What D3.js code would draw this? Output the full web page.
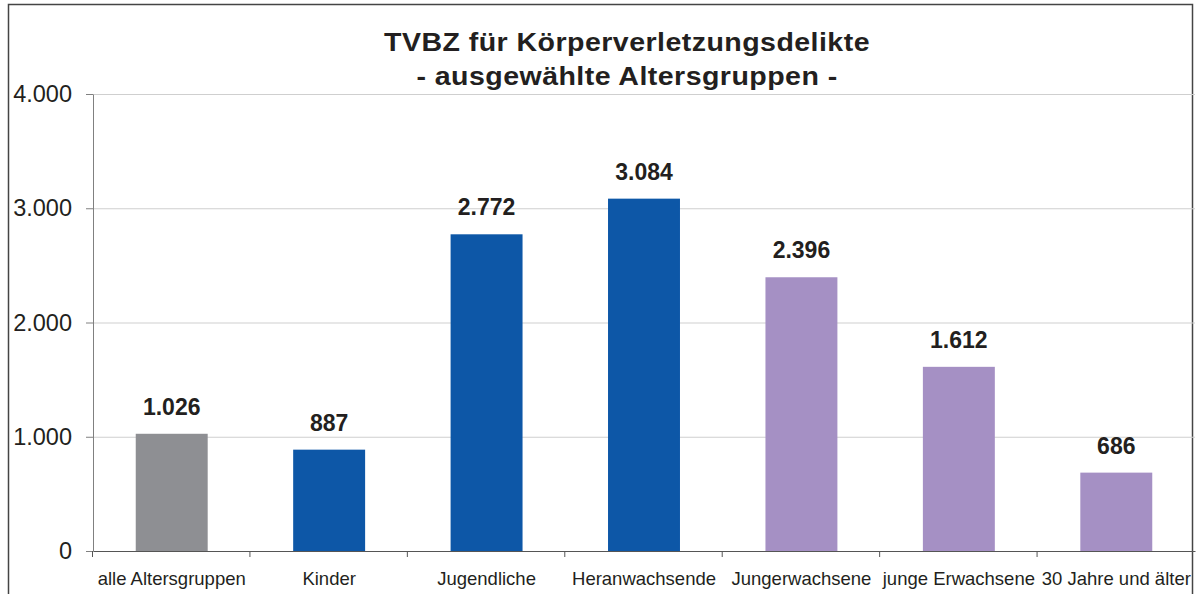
<!DOCTYPE html>
<meta charset="utf-8">
<style>
body { margin: 0; background: #fff; }
text { font-family: "Liberation Sans", Arial, sans-serif; fill: #231f20; }
.grid line { stroke: #cfcfcf; }
.axis--y path, .axis--y line { stroke: #808080; }
.axis--x path, .axis--x line { stroke: #555; }
</style>
<body>
<script src="https://d3js.org/d3.v7.min.js"></script>
<script>

var categories = ["alle Altersgruppen", "Kinder", "Jugendliche", "Heranwachsende",
                  "Jungerwachsene", "junge Erwachsene", "30 Jahre und älter"];
var values = [1026, 887, 2772, 3084, 2396, 1612, 686];
var groups = ["alle", "jung", "jung", "jung", "erw", "erw", "erw"];
var yTicks = [0, 1000, 2000, 3000, 4000];

var colors = {alle: "#8e8f93", jung: "#0d57a7", erw: "#a590c4"};

var de = d3.formatLocale({decimal: ",", thousands: ".", grouping: [3], currency: ["", " €"]});
var fmt = de.format(",.0f");

var W = 1196, H = 594;
var margin = {top: 94, right: 1, bottom: 43, left: 93},
    width = 1195 - margin.left,
    height = 551 - margin.top;

var svg = d3.select("body").append("svg")
    .attr("width", W)
    .attr("height", H);

// outer frame
svg.append("rect")
    .attr("x", 8.5).attr("y", 4.5)
    .attr("width", 1184).attr("height", 620)
    .attr("fill", "none")
    .attr("stroke", "#444")
    .attr("stroke-width", 1.5);

var g = svg.append("g")
    .attr("transform", "translate(" + margin.left + "," + margin.top + ")");

var x = d3.scaleBand()
    .domain(categories)
    .range([0, width])
    .paddingInner(0.543)
    .paddingOuter(0.2715);

var y = d3.scaleLinear()
    .domain([0, 4000])
    .range([height, 0]);

g.append("g")
    .attr("class", "grid")
  .selectAll("line")
    .data(yTicks.slice(1))
  .enter().append("line")
    .attr("x1", 0).attr("x2", width)
    .attr("y1", function(d) { return y(d) + 0.5; })
    .attr("y2", function(d) { return y(d) + 0.5; });

g.selectAll(".bar")
    .data(values)
  .enter().append("rect")
    .attr("class", "bar")
    .attr("x", function(d, i) { return x(categories[i]); })
    .attr("y", function(d) { return y(d); })
    .attr("width", x.bandwidth())
    .attr("height", function(d) { return height - y(d); })
    .attr("fill", function(d, i) { return colors[groups[i]]; });

g.selectAll(".val")
    .data(values)
  .enter().append("text")
    .attr("class", "val")
    .attr("x", function(d, i) { return x(categories[i]) + x.bandwidth() / 2; })
    .attr("y", function(d) { return y(d) - 19; })
    .attr("text-anchor", "middle")
    .style("font-size", "23px")
    .style("font-weight", "bold")
    .text(function(d) { return fmt(d); });

var yAxis = g.append("g")
    .attr("class", "axis axis--y")
    .call(d3.axisLeft(y).tickValues(yTicks).tickSize(7).tickSizeOuter(0).tickFormat(fmt));
yAxis.selectAll("text")
    .attr("x", -21)
    .style("font-size", "23.5px");

var step = x.step();
var xAxis = g.append("g")
    .attr("class", "axis axis--x")
    .attr("transform", "translate(0," + height + ")")
    .call(d3.axisBottom(x).tickSize(0).tickSizeOuter(0));
xAxis.selectAll("text")
    .attr("y", 21)
    .style("font-size", "18.5px");
// tick marks at category boundaries
xAxis.selectAll(".sep")
    .data(categories)
  .enter().append("line")
    .attr("class", "sep")
    .attr("x1", function(d) { return x(d) - x.paddingInner() * step / 2 - 0.5; })
    .attr("x2", function(d) { return x(d) - x.paddingInner() * step / 2 - 0.5; })
    .attr("y1", 0).attr("y2", 6);

// the original title is a bit wider than plain Arial bold
var title = ["TVBZ für Körperverletzungsdelikte", "- ausgewählte Altersgruppen -"];
svg.selectAll(".title")
    .data(title)
  .enter().append("text")
    .attr("class", "title")
    .attr("transform", function(d, i) { return "translate(627," + (51 + i * 34) + ") scale(1.12,1)"; })
    .attr("text-anchor", "middle")
    .style("font-size", "25.5px")
    .style("font-weight", "bold")
    .style("letter-spacing", "0.4px")
    .text(function(d) { return d; });

</script>
